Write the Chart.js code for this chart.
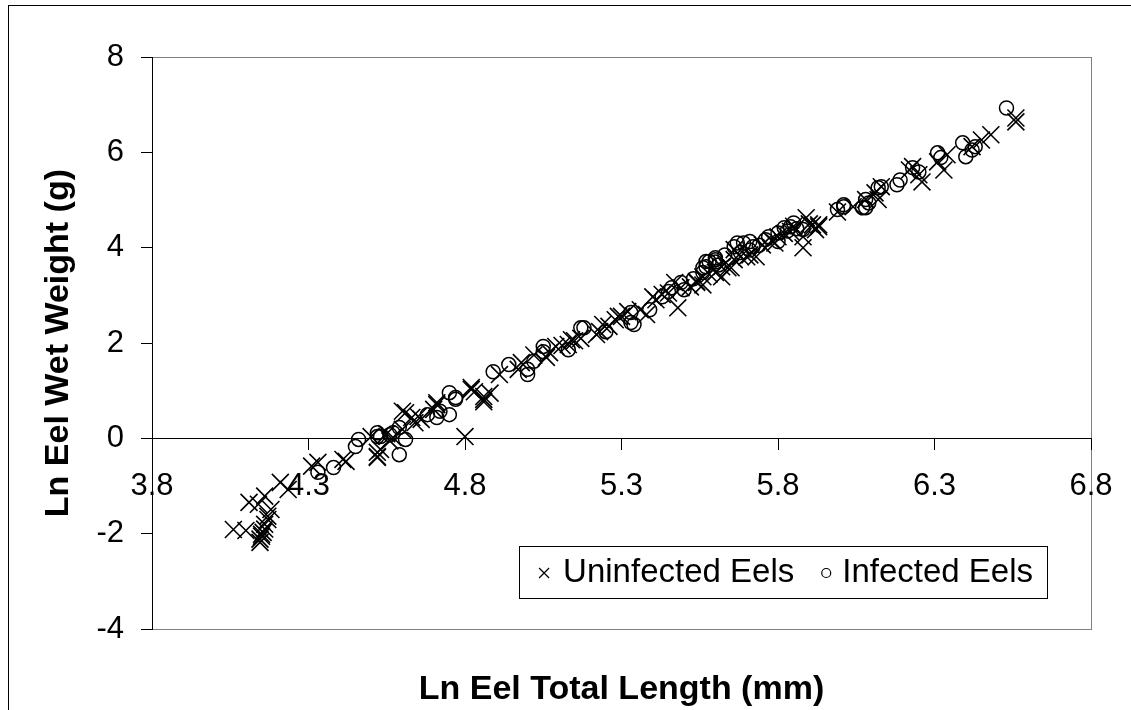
<!DOCTYPE html>
<html lang="en">
    <head>
        <title> Eel length vs weight </title>
        <style>
            html, body { margin: 0; padding: 0; background: #fff; overflow: hidden; }
            #wrap { position: relative; width: 1131px; height: 710px; }
        </style>
        <script src="https://cdn.jsdelivr.net/npm/chart.js@4.4.0/dist/chart.umd.min.js"></script>
    </head>

    <body>
        <div id="wrap"><canvas id="eelChart"></canvas></div>

        <script>

            // ln(total length mm), ln(wet weight g)
            const uninfected = [
                [4.06, -1.91], [4.10, -1.93], [4.11, -1.34], [4.145, -2.18], [4.15, -2.01], [4.155, -1.97],
                [4.14, -1.38], [4.16, -1.80], [4.17, -1.63], [4.17, -1.70], [4.18, -1.49], [4.16, -1.21],
                [4.145, -2.11], [4.15, -2.05], [4.16, -1.90], [4.21, -0.92], [4.235, -1.07], [4.31, -0.58],
                [4.33, -0.50], [4.41, -0.44], [4.42, -0.48], [4.52, -0.29], [4.52, -0.40], [4.50, 0.04],
                [4.52, -0.38], [4.53, -0.23], [4.55, 0.10], [4.56, -0.05], [4.57, 0.02], [4.60, 0.19],
                [4.61, 0.54], [4.65, 0.46], [4.64, 0.33], [4.66, 0.40], [4.71, 0.71], [4.80, 0.04],
                [4.82, 1.03], [4.86, 0.82], [4.60, 0.57], [4.63, 0.44], [4.71, 0.75], [4.70, 0.61],
                [4.82, 1.07], [4.83, 0.98], [4.86, 0.88], [4.86, 0.77], [4.88, 0.95], [4.91, 1.34],
                [4.97, 1.45], [4.98, 1.59], [5.02, 1.75], [5.06, 1.70], [5.07, 1.80], [5.09, 1.93],
                [5.11, 1.95], [5.14, 2.07], [5.13, 1.97], [5.15, 2.05], [5.17, 2.10], [5.22, 2.18],
                [5.23, 2.24], [5.24, 2.39], [5.28, 2.49], [5.26, 2.35], [5.30, 2.56], [5.32, 2.66],
                [5.38, 2.60], [5.41, 2.91], [5.43, 3.02], [5.48, 2.74], [5.49, 3.16], [5.52, 3.18],
                [5.54, 3.27], [5.56, 3.39], [5.60, 3.48], [5.64, 3.58], [5.66, 3.75], [5.68, 3.81],
                [5.71, 3.85], [5.29, 2.56], [5.36, 2.70], [5.40, 2.97], [5.45, 3.05], [5.47, 3.27],
                [5.54, 3.29], [5.56, 3.22], [5.58, 3.45], [5.62, 3.39], [5.62, 3.60], [5.65, 3.58],
                [5.66, 3.96], [5.70, 3.81], [5.73, 3.81], [5.75, 4.06], [5.78, 4.15], [5.79, 4.10],
                [5.80, 4.23], [5.82, 4.30], [5.84, 4.34], [5.85, 4.45], [5.88, 4.00], [5.89, 4.63],
                [5.90, 4.50], [5.91, 4.48], [5.93, 4.44], [5.88, 4.23], [5.92, 4.38], [5.93, 4.48],
                [5.99, 4.75], [6.04, 4.86], [6.08, 5.01], [6.11, 5.15], [6.13, 5.28], [6.12, 5.01],
                [6.22, 5.63], [6.23, 5.70], [6.26, 5.38], [6.25, 5.53], [6.31, 5.80], [6.33, 5.63],
                [6.34, 5.95], [6.42, 6.12], [6.45, 6.26], [6.48, 6.37], [6.56, 6.72], [6.56, 6.64]
            ];

            const infected = [
                [4.33, -0.71], [4.38, -0.61], [4.45, -0.17], [4.46, -0.02], [4.52, 0.12], [4.53, 0.04],
                [4.52, 0.04], [4.56, 0.08], [4.57, 0.12], [4.59, -0.34], [4.61, -0.02], [4.59, 0.23],
                [4.68, 0.50], [4.71, 0.44], [4.75, 0.50], [4.72, 0.57], [4.75, 0.96], [4.77, 0.86],
                [4.77, 0.82], [4.89, 1.40], [4.94, 1.55], [5.00, 1.34], [5.00, 1.45], [5.02, 1.62],
                [5.05, 1.93], [5.05, 1.82], [5.17, 2.32], [5.13, 1.86], [5.25, 2.24], [5.18, 2.32],
                [5.33, 2.43], [5.33, 2.64], [5.39, 2.70], [5.43, 2.97], [5.46, 3.16], [5.50, 3.12],
                [5.49, 3.27], [5.53, 3.35], [5.56, 3.48], [5.57, 3.60], [5.58, 3.71], [5.60, 3.79],
                [5.34, 2.39], [5.45, 3.08], [5.56, 3.58], [5.57, 3.71], [5.61, 3.64], [5.60, 3.70],
                [5.63, 3.85], [5.67, 4.10], [5.68, 3.90], [5.71, 4.13], [5.71, 3.95], [5.72, 4.02],
                [5.74, 4.05], [5.77, 4.23], [5.80, 4.13], [5.83, 4.35], [5.84, 4.44], [5.85, 4.52],
                [5.86, 4.40], [5.88, 4.38], [5.99, 4.80], [5.60, 3.75], [5.66, 4.02], [5.69, 4.10],
                [5.76, 4.17], [5.80, 4.31], [5.82, 4.42], [6.01, 4.90], [6.07, 4.84], [6.08, 5.01],
                [6.01, 4.86], [6.08, 4.84], [6.09, 4.94], [6.12, 5.26], [6.13, 5.28], [6.18, 5.32],
                [6.19, 5.42], [6.23, 5.68], [6.25, 5.59], [6.31, 5.99], [6.32, 5.89], [6.39, 6.20],
                [6.40, 5.91], [6.42, 6.05], [6.43, 6.12], [6.53, 6.93]
            ];

            const seriesNames = ['Uninfected Eels', 'Infected Eels'];
            const xTicks = [3.8, 4.3, 4.8, 5.3, 5.8, 6.3, 6.8];
            const yTicks = [-4, -2, 0, 2, 4, 6, 8];
            const xTitle = 'Ln Eel Total Length (mm)';
            const yTitle = 'Ln Eel Wet Weight (g)';

            const FONT = "'Liberation Sans', Arial, sans-serif";

            // outer frame + grey plot-area box, drawn before the axes
            const frames = {
                id: 'frames',
                beforeDraw (chart) {
                    const { ctx, chartArea: a } = chart;
                    ctx.save ();
                    ctx.lineWidth = 1;
                    ctx.strokeStyle = '#000';
                    ctx.strokeRect (8.5, 5.5, 1300, 900);
                    ctx.strokeStyle = '#808080';
                    ctx.strokeRect (Math.round (a.left) + 0.5, Math.round (a.top) + 0.5,
                        Math.round (a.width), Math.round (a.height));
                    ctx.restore ();
                }
            };

            // boxed one-row legend sitting in the lower right of the plot area
            const boxLegend = {
                id: 'boxLegend',
                afterDatasetsDraw (chart) {
                    const { ctx, chartArea: a } = chart;
                    ctx.save ();
                    ctx.font = '33px ' + FONT;
                    const w1 = ctx.measureText (chart.data.datasets[0].label).width;
                    const w2 = ctx.measureText (chart.data.datasets[1].label).width;
                    const boxW = 44 + w1 + 48 + w2 + 14;
                    const boxH = 52;
                    const right = Math.round (a.right) - 44;
                    const bottom = Math.round (a.bottom) - 31;
                    const left = right - boxW;
                    const top = bottom - boxH;
                    const cy = top + 27;

                    ctx.fillStyle = '#fff';
                    ctx.fillRect (left, top, boxW, boxH);
                    ctx.strokeStyle = '#000';
                    ctx.lineWidth = 1;
                    ctx.strokeRect (Math.round (left) + 0.5, top + 0.5, Math.round (boxW), boxH);

                    // small x
                    const m1 = left + 25;
                    ctx.lineWidth = 1.2;
                    ctx.beginPath ();
                    ctx.moveTo (m1 - 5, cy - 5); ctx.lineTo (m1 + 5, cy + 5);
                    ctx.moveTo (m1 + 5, cy - 5); ctx.lineTo (m1 - 5, cy + 5);
                    ctx.stroke ();

                    // small o
                    const m2 = left + 44 + w1 + 32;
                    ctx.beginPath ();
                    ctx.arc (m2, cy, 4.5, 0, Math.PI * 2);
                    ctx.stroke ();

                    ctx.fillStyle = '#000';
                    ctx.textBaseline = 'middle';
                    ctx.textAlign = 'left';
                    ctx.fillText (chart.data.datasets[0].label, left + 44, cy);
                    ctx.fillText (chart.data.datasets[1].label, m2 + 16, cy);
                    ctx.restore ();
                }
            };

            const toPoints = list => list.map (p => ({ x: p[0], y: p[1] }));

            new Chart (document.getElementById ('eelChart'), {
                type: 'scatter',
                data: {
                    datasets: [{
                        label: seriesNames[0],
                        data: toPoints (uninfected),
                        pointStyle: 'crossRot',
                        pointRadius: 12,
                        pointBorderWidth: 1.6,
                        borderColor: '#000',
                        backgroundColor: '#000'
                    }, {
                        label: seriesNames[1],
                        data: toPoints (infected),
                        pointStyle: 'circle',
                        pointRadius: 7,
                        pointBorderWidth: 1.5,
                        borderColor: '#000',
                        backgroundColor: 'rgba(0,0,0,0)'
                    }]
                },
                options: {
                    responsive: true,
                    maintainAspectRatio: false,
                    animation: false,
                    events: [],
                    layout: {
                        padding: { top: 57, right: 40, bottom: 0, left: 0 }
                    },
                    scales: {
                        x: {
                            type: 'linear',
                            position: { y: 0 },
                            min: 3.8,
                            max: 6.8,
                            afterBuildTicks: scale => { scale.ticks = xTicks.map (v => ({ value: v })); },
                            ticks: {
                                callback: v => String (v),
                                color: '#000',
                                padding: 18,
                                maxRotation: 0,
                                autoSkip: false,
                                font: { family: FONT, size: 31 }
                            },
                            grid: { drawOnChartArea: false, drawTicks: true, tickLength: 11, color: '#000' },
                            border: { display: true, color: '#000', width: 1 }
                        },
                        y: {
                            type: 'linear',
                            min: -4,
                            max: 8,
                            afterBuildTicks: scale => { scale.ticks = yTicks.map (v => ({ value: v })); },
                            afterFit: scale => { scale.width = 152; },
                            ticks: {
                                callback: v => String (v),
                                color: '#000',
                                padding: 17,
                                autoSkip: false,
                                font: { family: FONT, size: 31 }
                            },
                            grid: { drawOnChartArea: false, drawTicks: true, tickLength: 11, color: '#000' },
                            border: { display: true, color: '#000', width: 1 },
                            title: {
                                display: true,
                                text: yTitle,
                                color: '#000',
                                padding: { top: 38, bottom: 0 },
                                font: { family: FONT, size: 34, weight: 'bold' }
                            }
                        }
                    },
                    plugins: {
                        legend: { display: false },
                        tooltip: { enabled: false },
                        title: {
                            display: true,
                            text: xTitle,
                            position: 'bottom',
                            fullSize: false,
                            color: '#000',
                            padding: { top: 40, bottom: 0 },
                            font: { family: FONT, size: 34, weight: 'bold' }
                        }
                    }
                },
                plugins: [frames, boxLegend]
            });

        </script>
    </body>
</html>
